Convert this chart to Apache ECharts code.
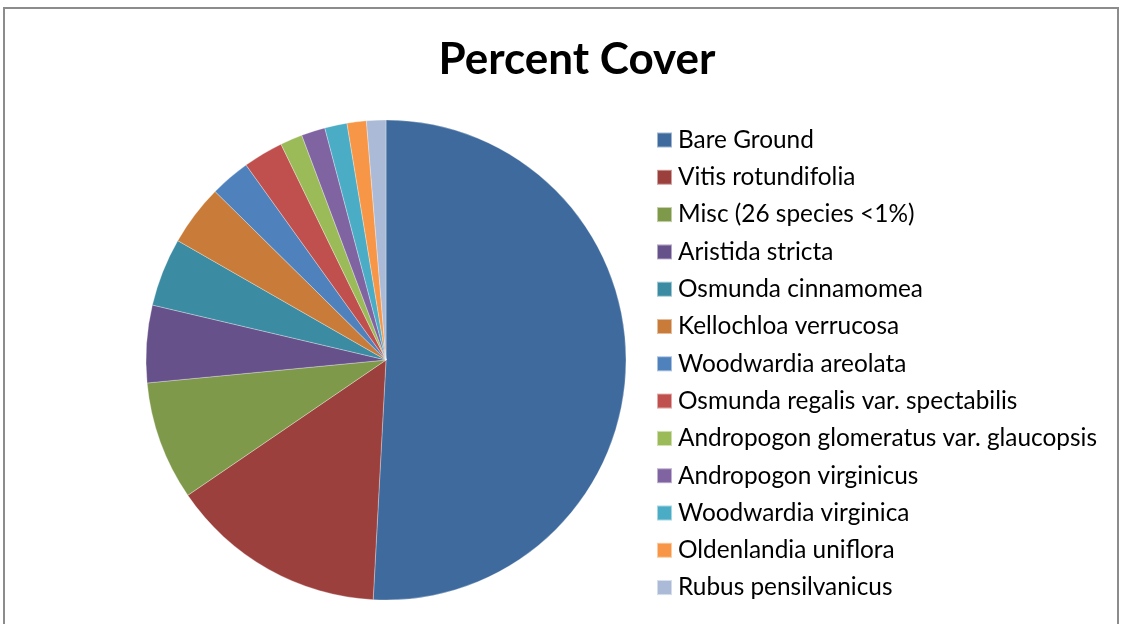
<!DOCTYPE html>
<html>
<head>
<meta charset="utf-8">
<script src="https://cdn.jsdelivr.net/npm/echarts@6/dist/echarts.min.js"></script>
<style>
html,body{margin:0;padding:0;background:#fff;}
#frame{position:absolute;left:3px;top:7px;width:1116px;height:640px;border:1px solid #8c8c8c;border-width:2px 2px 0 2px;box-sizing:border-box;}
#chart{position:absolute;left:0;top:0;width:1123px;height:624px;}
</style>
</head>
<body>
<div id="frame"></div>
<div id="chart"></div>
<script>
const categories = ["Bare Ground","Vitis rotundifolia","Misc (26 species <1%)","Aristida stricta","Osmunda cinnamomea","Kellochloa verrucosa","Woodwardia areolata","Osmunda regalis var. spectabilis","Andropogon glomeratus var. glaucopsis","Andropogon virginicus","Woodwardia virginica","Oldenlandia uniflora","Rubus pensilvanicus"];
const values = [50.8,14.6,8.0,5.2,4.6,4.1,2.7,2.7,1.5,1.6,1.5,1.3,1.3];
const colors = ["#3F6A9D","#9C403D","#7F994A","#67518A","#3B8CA2","#C97B39","#4F81BD","#C0504D","#9BBB59","#8064A2","#4BACC6","#F79646","#AABAD7"];

const chart = echarts.init(document.getElementById('chart'));
chart.setOption({
  animation:false,
  title:{text:"Percent Cover",left:572,top:33,textAlign:'center',
    textStyle:{fontFamily:"Lato",fontWeight:'bold',fontSize:44,color:'#000'}},
  legend:{orient:'vertical',left:651,top:123,itemWidth:15,itemHeight:15,itemGap:13.3,
    icon:'rect',
    textStyle:{fontFamily:"Lato",fontSize:24.4,lineHeight:24,color:'#000',padding:[0,0,0,1]},
    data:categories},
  series:[{type:'pie',center:[386,360],radius:240,startAngle:90,clockwise:true,
    label:{show:false},labelLine:{show:false},
    itemStyle:{borderColor:'rgba(255,255,255,0.5)',borderWidth:0.6},
    emphasis:{disabled:true},
    data:categories.map((c,i)=>({name:c,value:values[i],itemStyle:{color:colors[i]}}))
  }]
});
</script>
</body>
</html>
